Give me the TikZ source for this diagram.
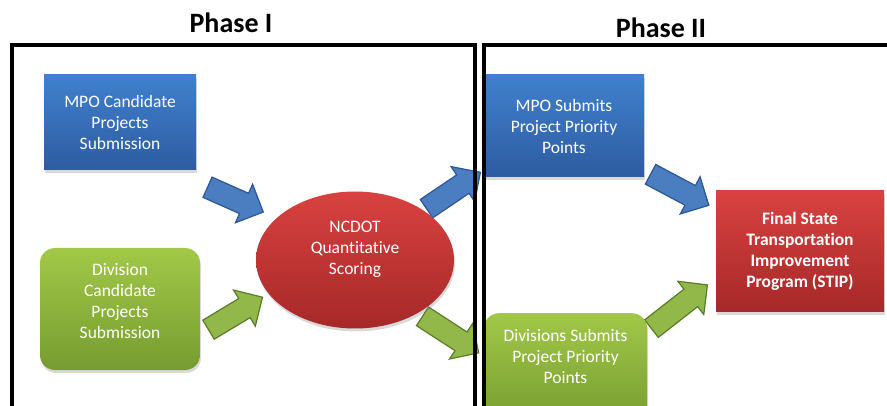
\documentclass[tikz,border=0pt]{standalone}
\usepackage{fontspec}
\setmainfont{Carlito}[Ligatures=NoCommon]
\usetikzlibrary{shapes.geometric,shapes.arrows,shadows}
\definecolor{boxBlueTop}{RGB}{64,128,206}
\definecolor{boxBlueBot}{RGB}{45,92,160}
\definecolor{boxGreenTop}{RGB}{162,200,72}
\definecolor{boxGreenBot}{RGB}{118,156,48}
\definecolor{boxRedTop}{RGB}{216,66,64}
\definecolor{boxRedBot}{RGB}{166,40,40}
\definecolor{arrBlue}{RGB}{74,126,192}
\definecolor{edgeBlue}{RGB}{44,86,148}
\definecolor{arrGreen}{RGB}{146,184,74}
\definecolor{edgeGreen}{RGB}{90,124,40}

\begin{document}
\begin{tikzpicture}
[x=1pt,y=-1pt,
  textDecorate/.style={text=white,align=center,font=\fontsize{17.5}{21}\selectfont},
  boxDecorate/.style={textDecorate,inner sep=0pt,
    drop shadow={opacity=0.3,shadow xshift=1pt,shadow yshift=-3pt}},
  blueBox/.style={boxDecorate,rectangle,top color=boxBlueTop,bottom color=boxBlueBot},
  greenBox/.style={boxDecorate,rectangle,rounded corners=15pt,top color=boxGreenTop,bottom color=boxGreenBot},
  redBox/.style={boxDecorate,top color=boxRedTop,bottom color=boxRedBot},
  arrowDecorate/.style={single arrow,inner sep=10.5pt,single arrow head extend=10pt,
    anchor=tail,line width=1.2pt},
  frameDecorate/.style={line width=4pt},
  phaseDecorate/.style={font=\bfseries\fontsize{28}{32}\selectfont}]
\clip (0,0) rectangle (887,406);
%% headings
\node (phaseOne) at (231,23) [phaseDecorate] {Phase I};
\node (phaseTwo) at (661,28) [phaseDecorate] {Phase II};
%% block arrows
\foreach \arrowname/\x/\y/\angle/\len/\col in {
  mpoIn/207/187/-24/61/Blue, divIn/208/330/31/63/Green,
  mpoOut/426/209/34/65/Blue, divOut/422/316/-33/67/Green,
  mpoFinal/650/174/-28/66/Blue, divFinal/651/329/38/71/Green}
{
  \node (\arrowname) at (\x,\y) [arrowDecorate,rotate=\angle,minimum height=\len pt,
    fill=arr\col,draw=edge\col] {};
}
%% phase I
\node (mpoCand) at (120,122.5) [blueBox,minimum width=152pt,minimum height=95pt]
  {MPO Candidate\\Projects\\Submission};
\node (divCand) at (120,309) [greenBox,minimum width=160pt,minimum height=122pt,
  label={[textDecorate,yshift=8pt]center:{Division\\Candidate\\Projects\\Submission}}] {};
\node (ncdot) at (355,260) [redBox,ellipse,minimum width=198pt,minimum height=137pt,
  label={[textDecorate,yshift=11pt]center:{NCDOT\\Quantitative\\Scoring}}] {};
%% phase II
\node (mpoSub) at (564,126) [blueBox,minimum width=160pt,minimum height=102pt]
  {MPO Submits\\Project Priority\\Points};
\node (divSub) at (565.5,313) [greenBox,anchor=north,minimum width=163pt,minimum height=110pt,
  label={[textDecorate,yshift=12pt]center:{Divisions Submits\\Project Priority\\Points}}] {};
\node (stip) at (800,251.5) [redBox,rectangle,minimum width=168pt,minimum height=121pt,
  font=\bfseries\fontsize{17.5}{21}\selectfont]
  {Final State\\Transportation\\Improvement\\Program (STIP)};
%% frames
\draw[frameDecorate] (12,420) -- (12,45) -- (475,45) -- (475,420);
\draw[frameDecorate] (484,420) -- (484,45) -- (900,45);
\end{tikzpicture}
\end{document}
